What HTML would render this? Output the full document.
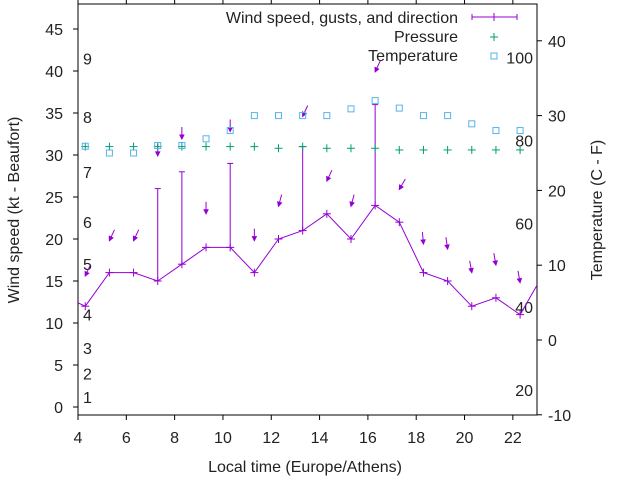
<!DOCTYPE html>
<html><head><meta charset="utf-8"><style>
body{margin:0;background:#fff;}
svg text{font-family:"Liberation Sans",sans-serif;font-size:16px;fill:#222;}
</style></head><body>
<svg id="chart" width="640" height="480" viewBox="0 0 640 480" xmlns="http://www.w3.org/2000/svg"></svg>
<script>
const hours=[4.3,5.3,6.3,7.3,8.3,9.3,10.3,11.3,12.3,13.3,14.3,15.3,16.3,17.3,18.3,19.3,20.3,21.3,22.3];
const windSpeed=[12,16,16,15,17,19,19,16,20,21,23,20,24,22,16,15,12,13,11];
const gusts=[null,null,null,26,28,null,29,null,null,31,null,null,36,null,null,null,null,null,null];
const pressure=[31,31,31,31,31,31,31,31,30.8,31,30.8,30.8,30.8,30.6,30.6,30.6,30.6,30.6,30.6];
const temperature=[25.9,25,25,26,26,26.9,28,30,30,30,30,30.9,32,31,30,30,28.9,28,28];
const arrowY=[15.6,19.8,19.8,29.9,31.9,23,32.8,19.8,23.9,34.6,26.9,23.9,39.9,25.9,19.4,18.8,16,16.9,14.8];
const arrowDir=[25,25,25,0,0,0,0,0,15,25,25,15,25,30,-5,-8,-10,-10,-10];
const xTicks=[4,6,8,10,12,14,16,18,20,22];
const yTicks=[0,5,10,15,20,25,30,35,40,45];
const y2Ticks=[-10,0,10,20,30,40];
const beaufort=[[1,1.2],[2,4],[3,7],[4,11],[5,17],[6,22],[7,28],[8,34.5],[9,41.5]];
const fahrenheit=[[20,-6.7],[40,4.4],[60,15.6],[80,26.7],[100,37.8]];
const edgeLeft=12.4, edgeRight=14.5;

const L=78,R=537,T=4,B=415;
const X=v=>L+(v-4)*(R-L)/19;
const Y=v=>407-v*8.4;
const Y2=v=>340-v*7.48;
const svg=document.getElementById('chart');
const NS='http://www.w3.org/2000/svg';
function mk(tag,attrs,parent){const e=document.createElementNS(NS,tag);for(const k in attrs)e.setAttribute(k,attrs[k]);(parent||svg).appendChild(e);return e;}
function txt(s,x,y,anchor,parent){const t=mk('text',{x:x,y:y,'text-anchor':anchor||'middle'},parent);t.textContent=s;return t;}

const axes=mk('g',{});


mk('rect',{x:L,y:T,width:R-L,height:B-T,fill:'none',stroke:'#000','stroke-width':1},axes);
xTicks.forEach(v=>{const x=X(v);mk('line',{x1:x,y1:B,x2:x,y2:B+5,stroke:'#000'},axes);mk('line',{x1:x,y1:T,x2:x,y2:T-5,stroke:'#000'},axes);
 const t=txt(String(v),x,443,'middle',axes);});
yTicks.forEach(v=>{const y=Y(v);mk('line',{x1:L-5,y1:y,x2:L,y2:y,stroke:'#000'},axes);
 const t=txt(String(v),63,y+6,'end',axes);});
y2Ticks.forEach(v=>{const y=Y2(v);mk('line',{x1:R,y1:y,x2:R+5,y2:y,stroke:'#000'},axes);
 const t=txt(String(v),548,y+6,'start',axes);});
beaufort.forEach(b=>{const t=txt(String(b[0]),83,Y(b[1])+6,'start',axes);});
fahrenheit.forEach(f=>{const t=txt(String(f[0]),533,Y2(f[1])+6,'end',axes);});

let t=txt('Local time (Europe/Athens)',305,472);

t=txt('Wind speed (kt - Beaufort)',0,0);t.setAttribute('transform','translate(19,210) rotate(-90)');

t=txt('Temperature (C - F)',0,0);t.setAttribute('transform','translate(602,210) rotate(-90)');


const clip=mk('clipPath',{id:'pc'});mk('rect',{x:L,y:T,width:R-L,height:B-T},clip);
const plot=mk('g',{'clip-path':'url(#pc)'});


const P='#9400d3',G='#009e73',C='#56b4e9';
// wind line
let pts=[[L,Y(edgeLeft)]].concat(hours.map((h,i)=>[X(h),Y(windSpeed[i])])).concat([[R,Y(edgeRight)]]);
const wl=mk('polyline',{points:pts.map(p=>p.join(',')).join(' '),fill:'none',stroke:P,'stroke-width':1},plot);


hours.forEach((h,i)=>{const x=X(h),y=Y(windSpeed[i]);
 const g=mk('g',{stroke:P,'stroke-width':1},plot);
 
 
 mk('line',{x1:x-4,y1:y,x2:x+4,y2:y},g);mk('line',{x1:x,y1:y-4,x2:x,y2:y+4},g);
 if(gusts[i]!=null){const gy=Y(gusts[i]);mk('line',{x1:x,y1:y,x2:x,y2:gy},g);mk('line',{x1:x-3,y1:gy,x2:x+3,y2:gy},g);}
});
// direction arrows
hours.forEach((h,i)=>{const x=X(h),y=Y(arrowY[i]);const a=arrowDir[i]*Math.PI/180;
 const tx=x+12*Math.sin(a),ty=y-12*Math.cos(a);
 const g=mk('g',{stroke:P,fill:P,'stroke-width':1},plot);
 
 
 mk('line',{x1:tx,y1:ty,x2:x,y2:y},g);
 const ux=(x-tx)/12,uy=(y-ty)/12,px=-uy,py=ux;
 mk('polygon',{points:`${x},${y} ${x-4*ux+2*px},${y-4*uy+2*py} ${x-4*ux-2*px},${y-4*uy-2*py}`},g);
});
// pressure
hours.forEach((h,i)=>{const x=X(h),y=Y(pressure[i]);const g=mk('g',{stroke:G,'stroke-width':1},plot);
 
 
 mk('line',{x1:x-4,y1:y,x2:x+4,y2:y},g);mk('line',{x1:x,y1:y-4,x2:x,y2:y+4},g);});
// temperature
hours.forEach((h,i)=>{const x=X(h),y=Y2(temperature[i]);const r=mk('rect',{x:x-3,y:y-3,width:6,height:6,fill:'none',stroke:C,'stroke-width':1},plot);
 
 });

// legend
const lg=mk('g',{});


[['Wind speed, gusts, and direction',23],['Pressure',42],['Temperature',61]].forEach(e=>{const tt=txt(e[0],458,e[1],'end',lg);});
mk('line',{x1:472,y1:17,x2:517,y2:17,stroke:P},lg);
mk('line',{x1:472,y1:14,x2:472,y2:20,stroke:P},lg);mk('line',{x1:517,y1:14,x2:517,y2:20,stroke:P},lg);
mk('line',{x1:494,y1:13,x2:494,y2:21,stroke:P},lg);
mk('line',{x1:490,y1:37,x2:498,y2:37,stroke:G},lg);mk('line',{x1:494,y1:33,x2:494,y2:41,stroke:G},lg);
mk('rect',{x:491,y:53,width:6,height:6,fill:'none',stroke:C},lg);
</script>
</body></html>
